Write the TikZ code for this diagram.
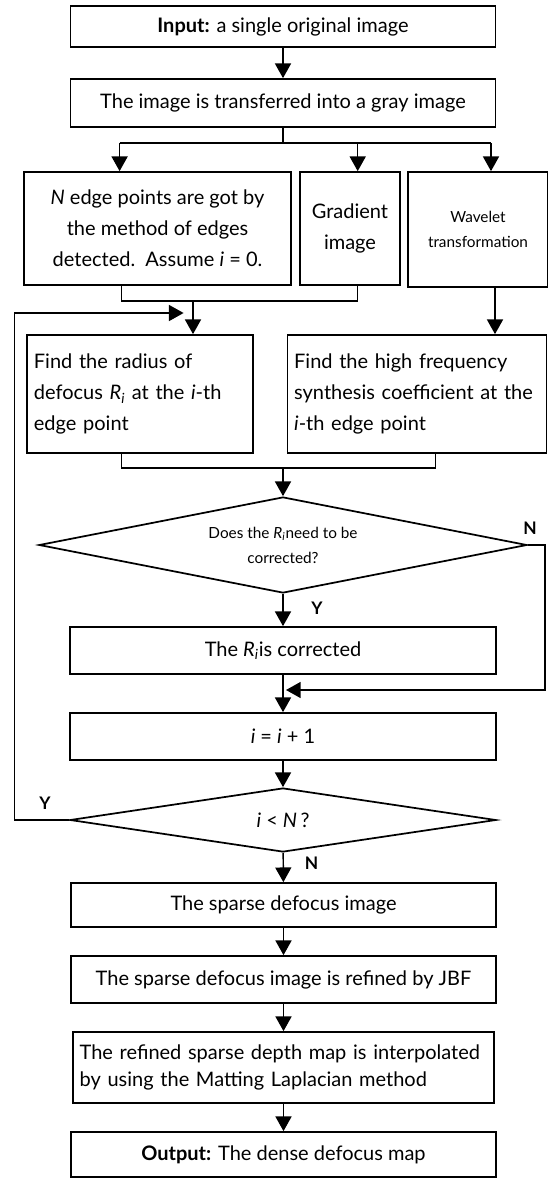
\documentclass[tikz,border=0pt]{standalone}
\usepackage{fontspec}
\setmainfont{Lato}
\usetikzlibrary{arrows.meta,positioning,calc,shapes.geometric}

\begin{document}
\begin{tikzpicture}[x=0.75pt,y=-0.75pt,>={Triangle[length=11pt,width=12pt]},line width=1.1pt,
 font=\fontsize{15}{23.25}\selectfont,
 blk/.style={draw,line width=1.3pt,minimum height=35.25pt,align=center,inner sep=0pt},
 lblk/.style={blk,align=left,inner sep=5pt},
 dec/.style={draw,line width=1.3pt,diamond,inner sep=0pt,align=center},
 yn/.style={font=\fontsize{13}{15}\selectfont\bfseries}]
\useasboundingbox (0,0) rectangle (548,1178);

\node[blk,minimum width=318.75pt,minimum height=30.75pt] (inp) at (283,26.5) {\textbf{Input:} a single original image};
\node[blk,minimum width=318.75pt,minimum height=36pt] (gray) at (283,103) {The image is transferred into a gray image};
\node[blk,minimum width=200.25pt,minimum height=84.75pt] (edge) at (157.5,228.5) {\textit{N} edge points are got by\\the method of edges\\detected.\ \ Assume \textit{i} = 0.};
\node[blk,minimum width=75pt,minimum height=84.75pt] (grad) at (350,228.5) {Gradient\\image};
\node[blk,minimum width=104.6pt,minimum height=86.25pt,font=\fontsize{11.5}{18.75}\selectfont] (wav) at (478,229.5) {Wavelet\\transformation};
\node[lblk,text width=159.1pt,minimum height=88.5pt] (rad) at (140,394) {Find the radius of\\defocus \textit{R}\textsubscript{\textit{i}} at the \textit{i}-th\\edge point};
\node[lblk,text width=184.25pt,minimum height=88.5pt] (hf) at (417,394) {Find the high frequency\\synthesis coefficient at the\\\textit{i}-th edge point};
\node[dec,minimum width=366pt,minimum height=72pt,aspect=5,font=\fontsize{11.5}{18.75}\selectfont] (dia1) at (283,545) {Does the \textit{R}\textsubscript{\textit{i}}need to be\\corrected?};
\node[blk,minimum width=319.5pt] (corr) at (283,650.5) {The \textit{R}\textsubscript{\textit{i}}is corrected};
\node[blk,minimum width=319.5pt] (inc) at (283,736.5) {\textit{i} = \textit{i} + 1};
\node[dec,minimum width=319.5pt,minimum height=48pt,aspect=6.6] (dia2) at (283,820) {\textit{i} < \textit{N}\,?};
\node[blk,minimum width=318.75pt,minimum height=33pt] (sparse) at (283.5,905) {The sparse defocus image};
\node[blk,minimum width=318.75pt] (jbf) at (283.5,979.5) {The sparse defocus image is refined by JBF};
\node[lblk,text width=305.75pt,minimum height=53.25pt,font=\fontsize{15}{20}\selectfont] (refine) at (283.5,1067.5) {The refined sparse depth map is interpolated\\by using the Matting Laplacian method};
\node[blk,minimum width=318.75pt,minimum height=33.75pt] (outp) at (283.5,1154.5) {\textbf{Output:} The dense defocus map};

% split into three branches
\coordinate (b1) at (119.6,143); \coordinate (b2) at (357.7,143); \coordinate (b3) at (491,143);
\draw[->] (inp) -- (gray);
\draw (gray) -- (gray.south |- b1);
\draw (b1) -- (b3);
\draw[->] (b1) -- (b1 |- edge.north);
\draw[->] (b2) -- (b2 |- grad.north);
\draw[->] (b3) -- (b3 |- wav.north);

% join edge points and gradient
\coordinate (m1) at (121.7,301); \coordinate (m2) at (357.7,301); \coordinate (j1) at (193,301);
\draw (m1 |- edge.south) -- (m1) -- (m2) -- (m2 |- grad.south);
\draw[->] (j1) -- (j1 |- rad.north);
\coordinate (w1) at (495,0);
\draw[->] (w1 |- wav.south) -- (w1 |- hf.north);

% loop back from i<N
\coordinate (fb) at (14.7,313); \coordinate (fbend) at (183.6,313);
\draw[->] (dia2.west) -- (fb |- dia2.west) -- (fb) -- (fbend);

% join the two finds
\coordinate (m3) at (121.7,468); \coordinate (m4) at (435.3,468);
\draw (m3 |- rad.south) -- (m3) -- (m4) -- (m4 |- hf.south);
\draw[->] (dia1.north |- m3) -- (dia1);
\draw[->] (dia1) -- (corr);
\coordinate (nr) at (545,545); \coordinate (nend) at (286,690);
\draw[->] (dia1.east) -- (nr) |- (nend);
\draw[->] (corr) -- (inc);
\draw[->] (inc) -- (dia2);
\draw[->] (dia2) -- (sparse);
\draw[->] (sparse) -- (jbf);
\draw[->] (jbf) -- (refine);
\draw[->] (refine) -- (outp);

\node[yn] (n1) at (530,528) {N};
\node[yn] (y1) at (317,608) {Y};
\node[yn] (y2) at (45,803) {Y};
\node[yn] (n2) at (311.5,863) {N};
\end{tikzpicture}
\end{document}
